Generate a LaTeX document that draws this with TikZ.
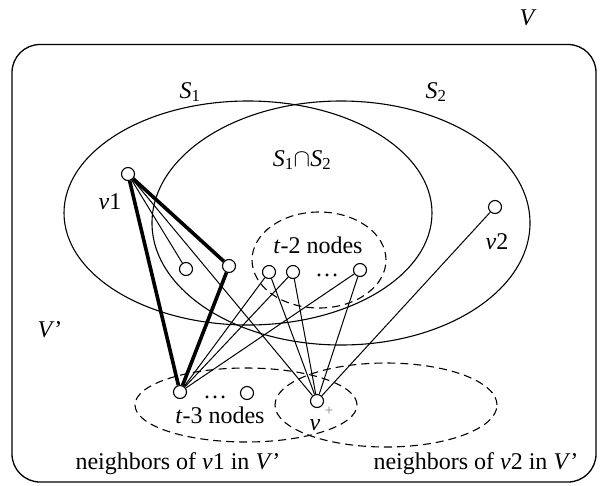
\documentclass[tikz,border=0pt]{standalone}
\usepackage{fontspec}
\setmainfont{Liberation Serif}
\begin{document}
\begin{tikzpicture}[x=1pt,y=-1pt,
  vtx/.style={circle,draw,fill=white,minimum size=13pt,inner sep=0pt,line width=1.1pt},
  thinedge/.style={line width=1pt},
  thickedge/.style={line width=3.6pt},
  dashell/.style={dash pattern=on 8pt off 5pt,line width=1.1pt},
  setell/.style={line width=1.1pt},
  lbl/.style={font=\fontsize{24}{28}\selectfont,inner sep=0pt},
  dotsl/.style={font=\fontsize{24}{28}\selectfont,inner sep=0pt,text height=3pt,text depth=0pt,anchor=base},
  plusl/.style={font=\fontsize{15}{18}\selectfont,inner sep=0pt,text=gray}]
\useasboundingbox (0,0) rectangle (607,485);
\draw[line width=1.3pt,rounded corners=28pt] (12,44.5) rectangle (596,482);
% set ellipses
\draw[setell] (248,213) ellipse [x radius=184pt,y radius=112pt];
\draw[setell] (341,223) ellipse [x radius=189pt,y radius=122pt];
\draw[dashell] (319,260) ellipse [x radius=67pt,y radius=48pt];
\draw[dashell] (246,405) ellipse [x radius=111pt,y radius=37pt];
\draw[dashell] (386,405) ellipse [x radius=111pt,y radius=42pt];
% vertices
\node[vtx] (v1) at (128,174) {};
\node[vtx] (n1) at (186,269) {};
\node[vtx] (n2) at (229,266) {};
\node[vtx] (t1) at (269,272) {};
\node[vtx] (t2) at (293,272) {};
\node[vtx] (t3) at (360,270) {};
\node[vtx] (v2) at (495,207) {};
\node[vtx] (a1) at (180,392) {};
\node[vtx] (a2) at (247,393) {};
\node[vtx] (vp) at (317,401) {};
% edges
\draw[thickedge] (v1) -- (a1);
\draw[thickedge] (v1) -- (n2);
\draw[thickedge] (n2) -- (a1);
\draw[thinedge] (v1) -- (n1);
\draw[thinedge] (v1) -- (vp);
\draw[thinedge] (a1) -- (t1);
\draw[thinedge] (a1) -- (t2);
\draw[thinedge] (a1) -- (t3);
\draw[thinedge] (vp) -- (t1);
\draw[thinedge] (vp) -- (t2);
\draw[thinedge] (vp) -- (t3);
\draw[thinedge] (vp) -- (v2);
% labels
\node[lbl] (lV) at (528,18) {\textit{V}};
\node[lbl] (lS1) at (190,92) {\textit{S}\textsubscript{1}};
\node[lbl] (lS2) at (436,92) {\textit{S}\textsubscript{2}};
\node[lbl] (lS12) at (302,160) {\textit{S}\textsubscript{1}$\cap$\textit{S}\textsubscript{2}};
\node[lbl] (lv1) at (110,202) {\textit{v}1};
\node[lbl] (lv2) at (497,242) {\textit{v}2};
\node[lbl] (lt2) at (318,245) {\textit{t}-2 nodes};
\node[dotsl] (d1) at (327,276) {…};
\node[lbl] (lVp) at (50,330) {\textit{V}’};
\node[dotsl] (d2) at (215,398) {…};
\node[lbl] (lt3) at (220,415) {\textit{t}-3 nodes};
\node[lbl] (lv) at (315,425) {\textit{v}};
\node[plusl] (lplus) at (329,411) {+};
\node[lbl] (lnb1) at (178,464) {neighbors of \textit{v}1 in \textit{V}’};
\node[lbl] (lnb2) at (476,464) {neighbors of \textit{v}2 in \textit{V}’};
\end{tikzpicture}
\end{document}
